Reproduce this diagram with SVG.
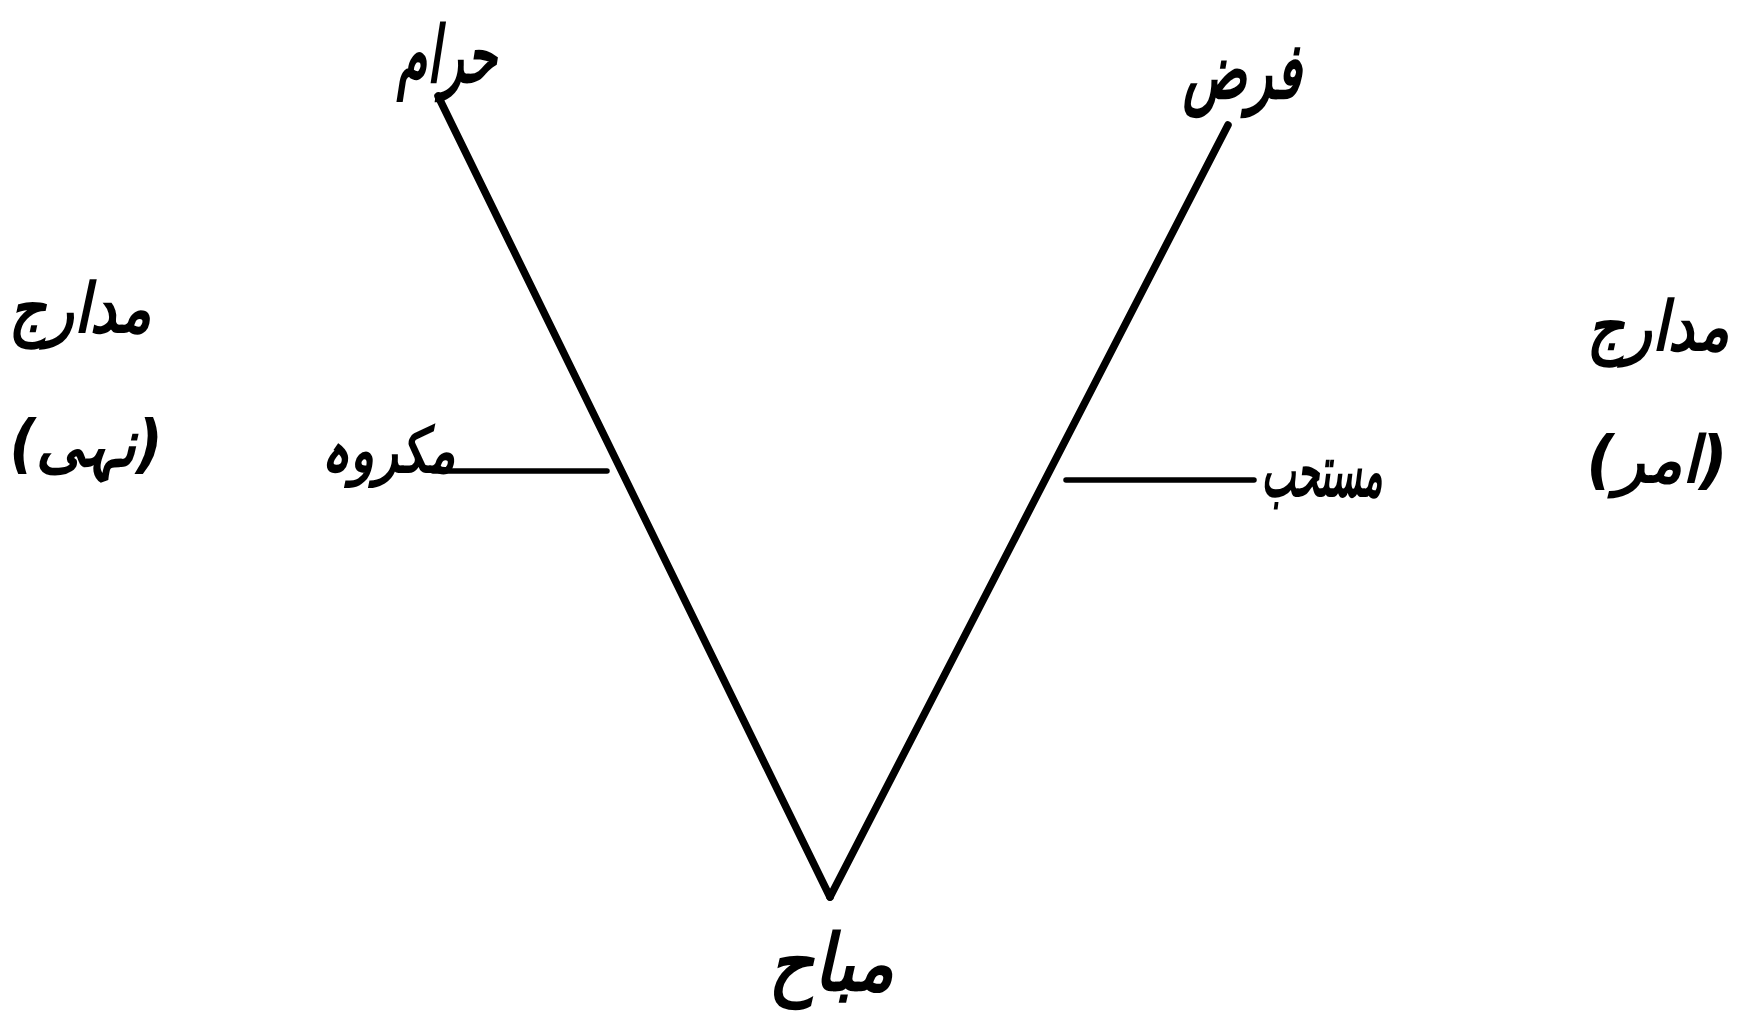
<svg xmlns="http://www.w3.org/2000/svg" width="1739" height="1017" viewBox="0 0 1739 1017">
<style>
.lbl{font-family:"DejaVu Sans","Noto Sans",sans-serif;font-weight:bold;font-style:italic;fill:#000;text-anchor:middle;direction:rtl}
.main{stroke:#000;stroke-width:7.5;stroke-linecap:round;fill:none}
.tick{stroke:#000;stroke-width:5.5;stroke-linecap:round;fill:none}
</style>
<rect width="1739" height="1017" fill="#ffffff"/>
<g id="connectors">
<line class="main" x1="438" y1="96" x2="830" y2="897"/>
<line class="main" x1="1228" y1="125" x2="830" y2="897"/>
<line class="tick" x1="433" y1="471" x2="607" y2="471"/>
<line class="tick" x1="1066" y1="480" x2="1254" y2="480"/>
</g>
<g id="haram"><text class="lbl" font-size="78" transform="translate(447,82) scale(0.62,1)">حرام</text></g>
<g id="farz"><text class="lbl" font-size="78" transform="translate(1242,98) scale(0.68,1)">فرض</text></g>
<g id="makruh"><text class="lbl" font-size="62" transform="translate(388,472) scale(0.8,1)">مکروہ</text></g>
<g id="mustahab"><text class="lbl" font-size="72" transform="translate(1322,496) scale(0.5,1)">مستحب</text></g>
<g id="mubah"><text class="lbl" font-size="78" transform="translate(831,990) scale(0.9,1)">مباح</text></g>
<g id="madarij-left"><text class="lbl" font-size="68" transform="translate(80,332) scale(0.85,1)">مدارج</text></g>
<g id="nahi"><text class="lbl" font-size="64" transform="translate(86,466) scale(0.92,1)">(نہی)</text></g>
<g id="madarij-right"><text class="lbl" font-size="68" transform="translate(1658,350) scale(0.85,1)">مدارج</text></g>
<g id="amr"><text class="lbl" font-size="64" transform="translate(1657,482) scale(0.97,1)">(امر)</text></g>
</svg>
